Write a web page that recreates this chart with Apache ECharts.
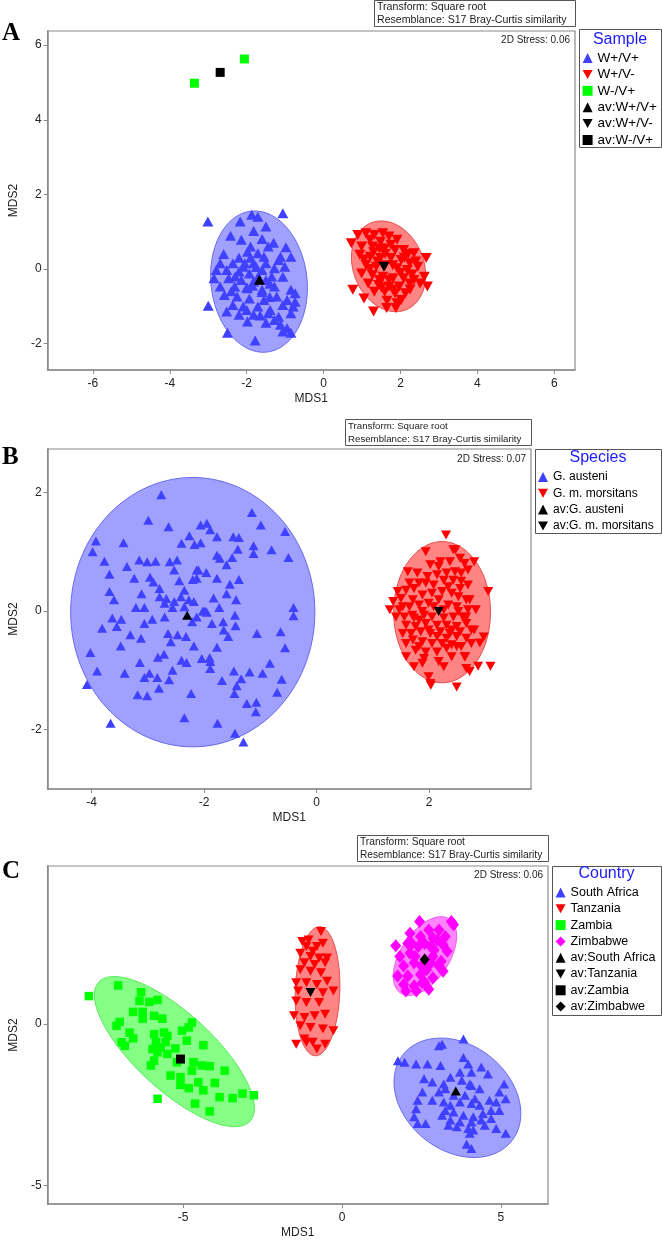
<!DOCTYPE html>
<html>
<head>
<meta charset="utf-8">
<title>NMDS</title>
<script src="https://cdn.jsdelivr.net/npm/echarts@6/dist/echarts.min.js"></script>
<style>
    html, body { margin: 0; padding: 0; background: #fff; }
    #chart { width: 662px; height: 1240px; }
</style>
</head>
<body>
<div id="chart"></div>
<script>
    // ---------- panel A : Sample ----------
    const aXTicks = [-6, -4, -2, 0, 2, 4, 6];
    const aYTicks = [-2, 0, 2, 4, 6];
    const aNames = ["W+/V+", "W+/V-", "W-/V+", "av:W+/V+", "av:W+/V-", "av:W-/V+"];
    const aWpVp = [[-3.01,1.27],[-1.06,1.49],[-1.87,1.45],[-1.71,1.40],[-2.17,1.27],[-1.50,1.14],[-1.82,1.02],[-2.42,0.89],[-2.14,0.78],[-1.44,0.60],[-0.98,0.58],[-1.98,0.46],[-1.71,0.42],[-1.55,0.33],[-1.12,0.33],[-0.85,0.33],[-2.69,0.15],[-2.36,0.15],[-2.09,0.06],[-1.82,0.15],[-1.50,0.15],[-1.17,0.24],[-2.79,-0.03],[-2.52,-0.03],[-2.20,-0.07],[-1.93,-0.12],[-1.60,-0.03],[-1.28,0.02],[-1.01,0.06],[-2.85,-0.25],[-2.47,-0.25],[-2.14,-0.30],[-1.82,-0.34],[-1.50,-0.30],[-1.06,-0.21],[-2.69,-0.47],[-2.31,-0.47],[-1.98,-0.52],[-1.60,-0.56],[-1.28,-0.47],[-0.85,-0.56],[-0.74,-0.65],[-2.58,-0.70],[-2.25,-0.74],[-1.93,-0.79],[-1.55,-0.83],[-1.22,-0.74],[-0.95,-0.83],[-0.74,-0.88],[-2.36,-0.97],[-2.09,-1.01],[-1.71,-1.01],[-1.39,-1.10],[-1.06,-0.97],[-0.79,-1.01],[-3.00,-0.99],[-2.52,-1.14],[-2.20,-1.23],[-1.82,-1.23],[-1.44,-1.19],[-1.17,-1.28],[-0.85,-1.19],[-1.98,-1.41],[-1.50,-1.44],[-1.12,-1.50],[-0.95,-1.59],[-0.85,-1.71],[-2.50,-1.71],[-1.78,-1.92],[-1.28,-1.37],[-1.06,-1.68],[-1.90,0.30],[-1.70,-0.20],[-2.00,-0.50],[-1.60,-0.62],[-1.85,-0.45],[-2.20,0.30],[-1.40,-0.40],[-1.30,0.70],[-2.60,0.40],[-2.30,-0.20],[-1.90,0.60],[-1.60,0.80],[-2.40,-0.60],[-1.65,-1.25],[-2.00,-1.10],[-1.35,-0.20],[-2.05,0.15],[-1.75,0.05],[-1.40,-0.75]];
    const aWpVm = [[0.72,0.69],[0.89,0.91],[1.10,0.96],[1.32,0.91],[1.54,0.96],[1.70,0.87],[1.91,0.78],[1.21,0.78],[1.48,0.73],[0.99,0.60],[1.27,0.60],[1.59,0.55],[1.86,0.51],[2.08,0.51],[2.35,0.42],[2.67,0.29],[0.94,0.38],[1.21,0.33],[1.48,0.29],[1.75,0.29],[2.02,0.24],[2.24,0.15],[1.10,0.11],[1.37,0.06],[1.91,0.02],[2.18,-0.03],[2.45,0.06],[2.62,-0.21],[2.70,-0.47],[0.99,-0.12],[1.27,-0.16],[1.54,-0.21],[1.81,-0.25],[2.08,-0.25],[2.35,-0.30],[1.16,-0.39],[1.43,-0.43],[1.70,-0.47],[1.97,-0.47],[2.24,-0.39],[2.51,-0.39],[1.32,-0.61],[1.59,-0.61],[1.86,-0.65],[2.13,-0.65],[0.76,-0.56],[1.05,-0.79],[1.30,-1.14],[1.64,-1.05],[1.88,-1.05],[1.91,-0.92],[2.02,-0.83],[1.60,0.40],[1.40,0.20],[1.80,0.10],[2.00,-0.10],[1.70,-0.30],[1.50,-0.50],[2.20,0.40],[1.30,0.45],[1.45,0.55],[1.75,0.65],[2.10,0.30],[1.20,0.00],[1.60,0.10],[2.30,-0.15],[1.45,-0.30],[1.80,-0.55],[2.40,0.20],[1.05,0.25],[1.65,-0.85],[2.25,-0.55]];
    const aWmVp = [[-3.36,4.98],[-2.06,5.63]];
    const aAvg = [[-1.67,-0.29],[1.57,0.06],[-2.69,5.27]];
    // ellipse: [cx, cy, rx, ry, rotation deg]
    const aEllipses = [[-1.68,-0.34,1.25,1.9,6],[1.69,0.07,0.92,1.25,20]];

    // ---------- panel B : Species ----------
    const bXTicks = [-4, -2, 0, 2];
    const bYTicks = [-2, 0, 2];
    const bNames = ["G. austeni", "G. m. morsitans", "av:G. austeni", "av:G. m. morsitans"];
    const bAusteni = [[-2.76,1.96],[-2.99,1.53],[-2.63,1.42],[-1.15,1.66],[-0.99,1.45],[-0.56,1.34],[-0.50,0.90],[-0.80,1.03],[-3.92,1.18],[-3.98,1.00],[-3.77,0.84],[-3.43,1.15],[-3.68,0.62],[-3.37,0.75],[-3.24,0.55],[-3.15,0.86],[-3.01,0.83],[-2.86,0.84],[-2.61,0.83],[-2.48,0.86],[-2.53,0.69],[-2.40,1.14],[-2.26,1.27],[-2.17,1.12],[-2.06,1.15],[-2.06,1.45],[-1.95,1.48],[-1.89,1.37],[-1.77,1.25],[-1.48,1.25],[-1.38,1.24],[-1.40,1.04],[-1.12,1.10],[-1.12,0.97],[-1.77,0.94],[-1.72,0.89],[-1.60,0.78],[-1.50,0.90],[-1.77,0.55],[-2.13,0.69],[-1.96,0.65],[-2.13,0.55],[-2.20,0.53],[-2.44,0.51],[-2.35,0.35],[-2.18,0.16],[-2.27,0.19],[-2.41,0.24],[-2.53,0.16],[-2.67,0.21],[-2.79,0.38],[-2.90,0.49],[-2.96,0.57],[-3.11,0.29],[-3.21,0.06],[-3.06,0.06],[-3.68,0.33],[-3.60,0.19],[-1.54,0.45],[-1.38,0.53],[-1.43,0.19],[-1.60,0.29],[-1.83,0.22],[-1.73,0.06],[-1.95,-0.02],[-2.02,0.00],[-2.13,-0.10],[-2.21,-0.18],[-2.35,0.07],[-2.56,0.06],[-2.70,0.13],[-2.70,-0.10],[-2.92,-0.14],[-3.06,-0.21],[-3.63,-0.12],[-3.47,-0.14],[-3.55,-0.26],[-3.81,-0.29],[-3.31,-0.40],[-3.12,-0.46],[-3.48,-0.59],[-4.02,-0.70],[-3.90,-1.01],[-4.08,-1.24],[-3.66,-1.89],[-3.41,-1.05],[-3.14,-0.87],[-3.06,-1.12],[-2.97,-1.05],[-2.83,-1.12],[-2.80,-1.30],[-3.18,-1.41],[-3.01,-1.43],[-2.82,-0.78],[-2.71,-0.73],[-2.64,-0.38],[-2.59,-0.52],[-2.32,-0.43],[-2.18,-0.59],[-2.40,-0.83],[-2.31,-0.87],[-2.56,-1.00],[-2.62,-1.16],[-2.23,-1.39],[-2.35,-1.80],[-2.04,-0.80],[-1.90,-0.79],[-1.89,-0.97],[-1.77,-0.61],[-1.86,-0.21],[-1.66,-0.18],[-1.65,-0.32],[-1.57,-0.43],[-1.45,-0.07],[-1.44,-0.25],[-1.47,-1.01],[-1.68,-1.17],[-1.42,-1.26],[-1.46,-1.39],[-1.34,-1.14],[-1.19,-1.03],[-1.06,-0.38],[-0.96,-1.05],[-0.83,-0.88],[-0.64,-0.35],[-0.56,-0.62],[-0.41,0.06],[-0.41,-0.08],[-0.62,-1.15],[-0.70,-1.37],[-1.07,-1.54],[-1.08,-1.70],[-1.24,-1.56],[-1.76,-1.89],[-1.45,-2.06],[-1.30,-2.21],[-1.89,-0.85],[-2.47,-0.40],[-2.79,0.24],[-2.10,0.69],[-1.98,0.00]];
    const bMorsitans = [[2.30,1.28],[1.94,1.00],[2.43,1.03],[2.55,0.89],[2.63,0.80],[2.02,0.78],[2.20,0.83],[2.37,0.83],[1.62,0.66],[1.79,0.64],[1.97,0.58],[2.14,0.61],[2.31,0.64],[2.46,0.66],[2.57,0.64],[2.69,0.69],[1.44,0.33],[1.59,0.35],[1.73,0.38],[1.94,0.47],[2.08,0.44],[2.26,0.52],[2.43,0.52],[2.57,0.50],[2.69,0.44],[1.50,0.21],[1.71,0.19],[1.88,0.27],[2.05,0.30],[2.23,0.33],[2.40,0.30],[2.52,0.24],[2.66,0.19],[1.30,0.02],[1.47,0.02],[1.65,0.07],[1.82,0.10],[1.99,0.13],[2.34,0.10],[2.49,0.07],[2.69,0.02],[1.56,-0.10],[1.73,-0.12],[1.91,-0.07],[2.05,-0.10],[2.26,-0.12],[2.43,-0.10],[2.60,-0.10],[1.59,-0.24],[1.76,-0.26],[1.94,-0.21],[2.14,-0.24],[2.31,-0.24],[2.49,-0.26],[2.66,-0.21],[1.68,-0.38],[1.85,-0.35],[2.02,-0.38],[2.20,-0.35],[2.37,-0.38],[2.55,-0.35],[2.66,-0.46],[1.71,-0.49],[1.88,-0.52],[2.05,-0.55],[2.23,-0.55],[2.40,-0.57],[2.57,-0.60],[1.76,-0.66],[1.94,-0.69],[2.14,-0.69],[2.31,-0.63],[2.49,-0.60],[1.59,-0.77],[1.91,-0.80],[2.17,-0.85],[1.99,-1.11],[2.02,-1.22],[2.49,-1.28],[2.66,-0.97],[2.63,-0.77],[2.75,-0.55],[2.75,-0.32],[3.05,0.33],[3.09,-0.93],[2.87,-0.93],[2.72,-1.02],[2.97,-0.44],[2.80,-0.32],[2.83,0.02],[2.72,0.19],[2.80,0.83],[2.47,1.03],[2.03,-1.25],[2.64,-0.77],[2.90,-0.54],[1.82,0.47],[2.34,0.41],[2.17,0.19],[1.88,-0.01],[2.08,0.07],[2.26,0.02],[2.52,-0.01],[1.82,-0.15],[1.99,-0.32],[2.40,-0.32],[2.14,-0.43],[2.31,-0.46],[1.82,-0.60],[2.49,-0.43],[1.70,-0.07],[1.53,0.07],[1.36,0.16],[1.41,-0.10],[1.65,0.47],[2.17,0.75],[2.55,0.38],[2.66,-0.10],[1.88,-0.88],[2.26,-0.94],[1.73,-0.94],[2.40,-0.77],[1.59,-0.55],[1.53,-0.38]];
    const bAvg = [[-2.30,-0.07],[2.17,-0.01]];
    const bEllipses = [[-2.20,-0.02,2.17,2.27,0],[2.23,-0.02,0.86,1.19,0]];

    // ---------- panel C : Country ----------
    const cXTicks = [-5, 0, 5];
    const cYTicks = [-5, 0];
    const cNames = ["South Africa", "Tanzania", "Zambia", "Zimbabwe", "av:South Africa", "av:Tanzania", "av:Zambia", "av:Zimbabwe"];
    const cSouthAfrica = [[3.82,-0.46],[3.05,-0.67],[3.15,-0.62],[1.76,-1.13],[1.97,-1.18],[2.33,-1.23],[2.69,-1.23],[3.10,-1.28],[3.82,-1.03],[3.97,-1.23],[3.71,-1.49],[4.07,-1.49],[4.38,-1.33],[4.59,-1.54],[2.58,-1.69],[2.84,-1.79],[3.20,-1.85],[3.41,-1.64],[3.77,-1.74],[4.02,-1.85],[4.33,-2.00],[4.07,-1.90],[5.10,-1.85],[2.53,-2.10],[3.05,-2.10],[3.25,-2.00],[3.51,-2.20],[3.87,-2.20],[4.18,-2.31],[4.95,-2.10],[2.38,-2.36],[2.84,-2.36],[3.20,-2.41],[3.41,-2.51],[3.71,-2.41],[4.07,-2.46],[4.33,-2.51],[4.64,-2.36],[4.85,-2.41],[5.15,-2.31],[2.33,-2.62],[3.25,-2.67],[3.51,-2.72],[3.82,-2.82],[4.13,-2.87],[4.43,-2.77],[4.69,-2.67],[4.95,-2.67],[2.27,-2.87],[3.15,-2.82],[3.41,-2.97],[3.71,-3.03],[4.07,-3.03],[4.38,-2.97],[4.69,-2.92],[2.38,-3.08],[2.63,-3.08],[3.35,-3.13],[3.61,-3.18],[3.97,-3.23],[4.13,-3.28],[4.49,-3.13],[4.85,-3.23],[5.15,-3.38],[4.02,-3.38],[3.92,-3.72],[4.07,-3.85]];
    const cTanzania = [[-0.66,2.87],[-1.25,2.56],[-1.12,2.41],[-0.79,2.41],[-1.31,2.20],[-0.99,2.10],[-0.72,2.05],[-0.47,2.05],[-1.18,1.90],[-0.86,1.85],[-0.53,1.90],[-1.31,1.69],[-0.99,1.64],[-0.66,1.59],[-1.44,1.28],[-1.12,1.28],[-0.79,1.23],[-0.47,1.33],[-1.38,1.03],[-0.60,0.97],[-0.27,1.03],[-1.44,0.72],[-1.12,0.67],[-0.72,0.67],[-1.51,0.26],[-1.18,0.21],[-0.86,0.26],[-0.53,0.31],[-1.31,-0.05],[-0.99,-0.10],[-0.60,-0.15],[-0.27,-0.20],[-1.44,-0.62],[-1.12,-0.56],[-0.79,-0.77],[-0.53,-0.62],[-1.18,-0.46],[-0.92,-0.56],[-1.05,2.61],[-0.60,2.51],[-0.92,2.26]];
    const cZambia = [[-7.96,0.87],[-7.04,1.20],[-6.32,0.99],[-6.37,0.72],[-6.06,0.69],[-5.80,0.75],[-6.57,0.38],[-6.27,0.38],[-6.27,0.17],[-5.91,0.26],[-5.65,0.17],[-6.99,0.07],[-7.09,-0.05],[-6.68,-0.26],[-6.57,-0.44],[-6.93,-0.56],[-6.83,-0.67],[-5.91,-0.31],[-5.60,-0.26],[-5.49,-0.36],[-5.85,-0.56],[-5.55,-0.56],[-5.96,-0.77],[-5.24,-0.75],[-5.80,-0.87],[-5.49,-0.92],[-5.91,-1.13],[-6.01,-1.28],[-5.03,-0.20],[-4.72,0.05],[-4.82,-0.10],[-4.88,-0.51],[-4.36,-0.65],[-4.67,-1.18],[-4.72,-1.44],[-4.41,-1.28],[-4.16,-1.30],[-3.69,-1.44],[-5.39,-1.59],[-5.08,-1.64],[-5.08,-1.88],[-4.82,-1.98],[-4.52,-1.80],[-4.36,-2.05],[-4.00,-1.82],[-3.85,-2.26],[-3.44,-2.29],[-3.13,-2.15],[-2.77,-2.20],[-5.80,-2.31],[-4.62,-2.46],[-4.16,-2.70],[-5.19,-1.18],[-5.70,-0.72]];
    const cZimbabwe = [[2.44,3.18],[3.44,3.18],[3.51,3.08],[2.73,2.92],[3.05,2.92],[2.14,2.82],[2.47,2.72],[2.86,2.67],[3.25,2.72],[1.69,2.43],[2.07,2.51],[2.40,2.41],[2.79,2.41],[3.18,2.46],[3.31,2.26],[1.82,2.10],[2.14,2.20],[2.86,2.10],[3.12,1.95],[3.05,1.80],[1.94,1.80],[2.27,1.90],[2.66,1.69],[3.18,1.64],[1.75,1.49],[2.07,1.49],[2.47,1.54],[2.86,1.44],[1.94,1.23],[2.27,1.18],[2.53,1.28],[2.73,1.08],[2.34,1.03],[2.01,1.03],[2.60,2.50],[2.90,2.30],[2.20,2.50],[2.50,1.80],[2.80,1.90],[2.30,2.10],[3.00,2.60],[2.60,1.30]];
    const cAvg = [[3.58,-2.07],[-0.99,0.98],[-5.08,-1.08],[2.60,2.00]];
    const cEllipses = [[3.63,-2.28,2.17,1.64,-37],[-0.77,1.02,0.70,2.0,-2],[-5.27,-0.85,3.21,1.20,-42],[2.61,2.11,1.38,0.76,56]];

    // ---------- styling ----------
    const FONT = '"Liberation Sans", Arial, sans-serif';
    const BLUE = "#4040ff", RED = "#ff0000", GREEN = "#00ff00", MAGENTA = "#ff00ff";
    const DOWN = "path://M0,0L10,0L5,9Z";
    const AXIS = "#8a8a8a";

    function ellipseSeries(name, e, idx, fill, stroke) {
        return {
            type: "custom",
            name: name,
            xAxisIndex: idx,
            yAxisIndex: idx,
            silent: true,
            z: 1,
            data: [e],
            renderItem: function (params, api) {
                let cx = api.value(0), cy = api.value(1);
                let rx = api.value(2), ry = api.value(3);
                let a = (api.value(4) * Math.PI) / 180;
                let pts = [];
                for (let i = 0; i < 120; i++) {
                    let t = (i / 120) * Math.PI * 2;
                    let dx = rx * Math.cos(t), dy = ry * Math.sin(t);
                    pts.push(api.coord([
                        cx + dx * Math.cos(a) - dy * Math.sin(a),
                        cy + dx * Math.sin(a) + dy * Math.cos(a),
                    ]));
                }
                return {
                    type: "polygon",
                    shape: { points: pts },
                    style: { fill: fill, stroke: stroke, lineWidth: 1 },
                };
            },
        };
    }

    function pts(name, data, idx, symbol, size, color, z) {
        return {
            type: "scatter",
            name: name,
            xAxisIndex: idx,
            yAxisIndex: idx,
            data: data,
            symbol: symbol,
            symbolSize: size,
            itemStyle: { color: color, opacity: 1 },
            emphasis: { disabled: true },
            z: z || 2,
        };
    }

    function xAxis(idx, min, max, ticks) {
        return {
            type: "value", gridIndex: idx, min: min, max: max,
            name: "MDS1", nameLocation: "middle", nameGap: 23,
            nameTextStyle: { fontSize: 12, color: "#222", fontFamily: FONT },
            axisLine: { show: true, onZero: false, lineStyle: { color: AXIS, width: 1.5 } },
            axisTick: { show: true, length: 4, customValues: ticks, lineStyle: { color: AXIS } },
            axisLabel: { customValues: ticks, fontSize: 12, color: "#222", margin: 8, fontFamily: FONT },
            splitLine: { show: false },
        };
    }
    function yAxis(idx, min, max, ticks) {
        return {
            type: "value", gridIndex: idx, min: min, max: max,
            name: "MDS2", nameLocation: "middle", nameGap: 27,
            nameTextStyle: { fontSize: 12, color: "#222", fontFamily: FONT },
            axisLine: { show: true, onZero: false, lineStyle: { color: AXIS, width: 1.5 } },
            axisTick: { show: true, length: 4, customValues: ticks, lineStyle: { color: AXIS } },
            axisLabel: { customValues: ticks, fontSize: 12, color: "#222", margin: 6, fontFamily: FONT },
            splitLine: { show: false },
        };
    }

    function legend(left, top, names, size, gap) {
        return {
            left: left, top: top, orient: "vertical", padding: 0,
            itemWidth: 10, itemHeight: 10, itemGap: gap,
            selectedMode: false, data: names,
            textStyle: { fontSize: size, lineHeight: 12, color: "#000", fontFamily: FONT },
        };
    }

    // boxes, letters and notes around each panel
    function panelNotes(letterY, box, stress, lg) {
        let fs = box[3];
        return [
            { type: "text", left: 2, top: letterY, style: { text: lg.letter, font: "bold 25px 'Liberation Serif', serif", fill: "#000" } },
            { type: "rect", shape: { x: box[0] + 0.5, y: box[1] + 0.5, width: box[2], height: 26 }, style: { fill: "#fff", stroke: "#555", lineWidth: 1 } },
            { type: "text", x: box[0] + 3, y: box[1] + 1, style: { text: "Transform: Square root\nResemblance: S17 Bray-Curtis similarity", font: fs + "px " + FONT, lineHeight: 12.8, fill: "#222" } },
            { type: "text", x: stress[0], y: stress[1], style: { text: stress[2], font: "10px " + FONT, fill: "#222", align: "right", verticalAlign: "middle" } },
            { type: "rect", shape: { x: lg.box[0] + 0.5, y: lg.box[1] + 0.5, width: lg.box[2], height: lg.box[3] }, style: { fill: "#fff", stroke: "#555", lineWidth: 1 }, z: -1 },
            { type: "text", x: lg.box[0] + lg.box[2] / 2, y: lg.titleY, style: { text: lg.title, font: "16px " + FONT, fill: "#1a1aff", align: "center", verticalAlign: "middle" } },
        ];
    }

    const chart = echarts.init(document.getElementById("chart"));
    chart.setOption({
        animation: false,
        backgroundColor: "#fff",
        grid: [
            { left: 40, top: 31, width: 535, height: 339, show: true, borderColor: AXIS, borderWidth: 1.2 },
            { left: 37, top: 449, width: 494, height: 340, show: true, borderColor: AXIS, borderWidth: 1.2 },
            { left: 38, top: 866, width: 510, height: 340, show: true, borderColor: AXIS, borderWidth: 1.2 },
        ],
        xAxis: [
            xAxis(0, -7.18, 6.54, aXTicks),
            xAxis(1, -4.78, 3.81, bXTicks),
            xAxis(2, -9.26, 6.48, cXTicks),
        ],
        yAxis: [
            yAxis(0, -2.71, 6.38, aYTicks),
            yAxis(1, -3.0, 2.73, bYTicks),
            yAxis(2, -5.57, 4.9, cYTicks),
        ],
        legend: [
            legend(582.6, 51, aNames, 13.5, 2.4),
            legend(538, 471, bNames, 12, 4.3),
            legend(555.6, 886, cNames, 12.5, 3.3),
        ],
        graphic: [].concat(
            panelNotes(21, [374, 0, 201, 10.6], [570, 40, "2D Stress: 0.06"], { letter: "A", box: [579, 29, 82, 118], title: "Sample", titleY: 40 }),
            panelNotes(445, [345, 419, 186, 9.7], [526, 459, "2D Stress: 0.07"], { letter: "B", box: [535, 449, 126, 84], title: "Species", titleY: 458 }),
            panelNotes(859, [357, 835, 191, 10.2], [543, 875, "2D Stress: 0.06"], { letter: "C", box: [552, 866, 109, 149], title: "Country", titleY: 874 })
        ),
        series: [
            ellipseSeries("ellA1", aEllipses[0], 0, "#a0a0ff", "#6a6af0"),
            ellipseSeries("ellA2", aEllipses[1], 0, "#ff8585", "#e84a4a"),
            pts(aNames[0], aWpVp, 0, "triangle", [11, 10], BLUE),
            pts(aNames[1], aWpVm, 0, DOWN, [11, 10], RED),
            pts(aNames[2], aWmVp, 0, "rect", 9, GREEN),
            pts(aNames[3], [aAvg[0]], 0, "triangle", [11, 10], "#000", 3),
            pts(aNames[4], [aAvg[1]], 0, DOWN, [11, 10], "#000", 3),
            pts(aNames[5], [aAvg[2]], 0, "rect", 9, "#000", 3),

            ellipseSeries("ellB1", bEllipses[0], 1, "#a0a0ff", "#6a6af0"),
            ellipseSeries("ellB2", bEllipses[1], 1, "#ff8585", "#e84a4a"),
            pts(bNames[0], bAusteni, 1, "triangle", [10, 9], BLUE),
            pts(bNames[1], bMorsitans, 1, DOWN, [10, 9], RED),
            pts(bNames[2], [bAvg[0]], 1, "triangle", [10, 9], "#000", 3),
            pts(bNames[3], [bAvg[1]], 1, DOWN, [10, 9], "#000", 3),

            ellipseSeries("ellC1", cEllipses[0], 2, "#a0a0ff", "#6a6af0"),
            ellipseSeries("ellC2", cEllipses[1], 2, "#ff8585", "#e84a4a"),
            ellipseSeries("ellC3", cEllipses[2], 2, "#85ff85", "#5ae85a"),
            ellipseSeries("ellC4", cEllipses[3], 2, "#ff85ff", "#e85ae8"),
            pts(cNames[0], cSouthAfrica, 2, "triangle", [10, 9], BLUE),
            pts(cNames[1], cTanzania, 2, DOWN, [10, 9], RED),
            pts(cNames[2], cZambia, 2, "rect", 8.5, GREEN),
            pts(cNames[3], cZimbabwe, 2, "diamond", [11, 13], MAGENTA),
            pts(cNames[4], [cAvg[0]], 2, "triangle", [10, 9], "#000", 3),
            pts(cNames[5], [cAvg[1]], 2, DOWN, [10, 9], "#000", 3),
            pts(cNames[6], [cAvg[2]], 2, "rect", 9, "#000", 3),
            pts(cNames[7], [cAvg[3]], 2, "diamond", [10, 12], "#000", 3),
        ],
    });
</script>
</body>
</html>
